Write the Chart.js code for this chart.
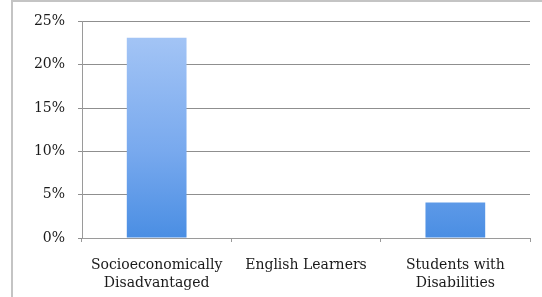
<!DOCTYPE html>
<html>
<head>
<meta charset="utf-8">
<script src="https://cdn.jsdelivr.net/npm/chart.js@4"></script>
<style>
  html, body { margin: 0; padding: 0; background: #fff; overflow: hidden; }
  .wrap { position: relative; width: 542px; height: 297px; overflow: hidden; }
  .edge-left { position: absolute; left: 11px; top: 0; width: 2px; height: 297px; background: #c4c4c4; }
  .edge-top { position: absolute; left: 11px; top: 0; width: 531px; height: 2px; background: #c4c4c4; }
  canvas { position: absolute; left: 0; top: 0; }
</style>
</head>
<body>
<div class="wrap">
  <div class="edge-left"></div>
  <div class="edge-top"></div>
  <canvas id="chart" width="542" height="297"></canvas>
</div>
<script>
const categories = [["Socioeconomically", "Disadvantaged"], "English Learners", ["Students with", "Disabilities"]]
const shares = [0.231, 0, 0.041]
const yTicks = [0, 0.05, 0.10, 0.15, 0.20, 0.25]

const fontFamily = "'DejaVu Serif', 'Liberation Serif', serif"

// bar fill: light blue at the top going darker at the bottom
const barFill = (context) => {
  const chart = context.chart
  const area = chart.chartArea
  if (!area) return "#6fa3ea"
  const grad = chart.ctx.createLinearGradient(0, area.top, 0, area.bottom)
  grad.addColorStop(0, "#a9c8f6")
  grad.addColorStop(0.6, "#78a9ee")
  grad.addColorStop(1, "#4a8ee3")
  return grad
}

new Chart(document.getElementById("chart"), {
  type: "bar",
  data: {
    labels: categories,
    datasets: [{
      data: shares,
      backgroundColor: barFill,
      borderWidth: 0,
      categoryPercentage: 0.4,
      barPercentage: 1
    }]
  },
  options: {
    responsive: false,
    animation: false,
    layout: { padding: { left: 0, top: 19, right: 12, bottom: 0 } },
    plugins: { legend: { display: false }, tooltip: { enabled: false } },
    scales: {
      x: {
        offset: true,
        grid: { offset: true, drawOnChartArea: false, color: "#9a9a9a", tickLength: 4 },
        border: { color: "#9a9a9a", width: 1 },
        ticks: {
          color: "#1a1a1a",
          font: { family: fontFamily, size: 14, lineHeight: 1.3 },
          padding: 14,
          maxRotation: 0,
          autoSkip: false
        },
        afterFit: (scale) => { scale.height = 59 }
      },
      y: {
        min: 0,
        max: 0.25,
        afterBuildTicks: (scale) => { scale.ticks = yTicks.map(v => ({ value: v })) },
        grid: { color: "#8f8f8f", tickLength: 4 },
        border: { color: "#9a9a9a", width: 1 },
        ticks: {
          color: "#1a1a1a",
          font: { family: fontFamily, size: 14 },
          padding: 13,
          callback: (v) => Math.round(v * 100) + "%"
        },
        afterFit: (scale) => { scale.width = 82 }
      }
    }
  }
})
</script>
</body>
</html>
